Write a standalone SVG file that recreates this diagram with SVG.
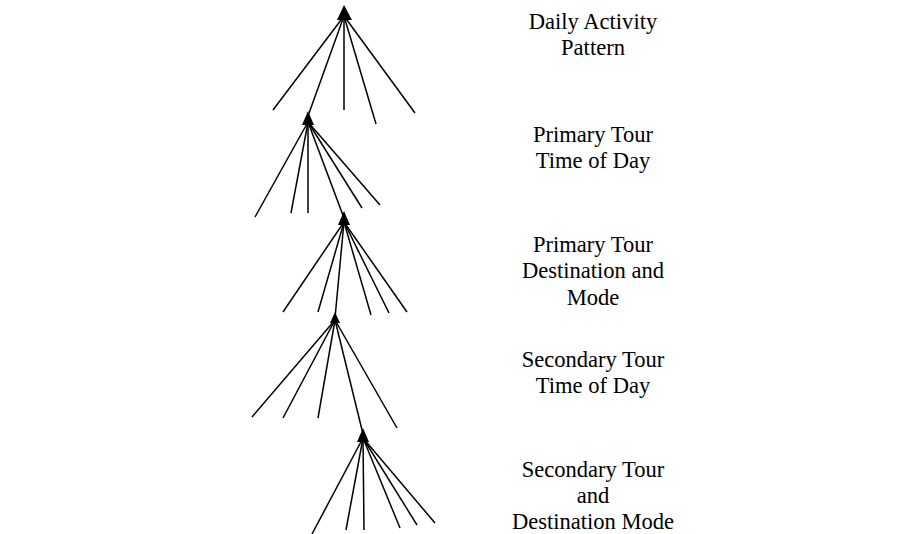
<svg xmlns="http://www.w3.org/2000/svg" width="913" height="534" viewBox="0 0 913 534">
  <style>
    .lbl { font-family: "Liberation Serif", "Times New Roman", serif; font-size: 24px; fill: #000; text-anchor: middle; }
    .ln { stroke: #000; stroke-width: 1.5; fill: none; stroke-linecap: butt; }
    .head { fill: #000; stroke: none; }
  </style>
  <rect width="913" height="534" fill="#fff"/>
  <g id="connectors">
    <line class="ln" x1="344" y1="16" x2="273" y2="110"/>
    <line class="ln" x1="344" y1="16" x2="308" y2="116"/>
    <line class="ln" x1="344" y1="16" x2="344" y2="110"/>
    <line class="ln" x1="344" y1="16" x2="376" y2="124"/>
    <line class="ln" x1="344" y1="16" x2="415" y2="113"/>
    <line class="ln" x1="308" y1="122" x2="255" y2="217"/>
    <line class="ln" x1="308" y1="122" x2="291" y2="213"/>
    <line class="ln" x1="308" y1="122" x2="308" y2="213"/>
    <line class="ln" x1="308" y1="122" x2="344" y2="218"/>
    <line class="ln" x1="308" y1="122" x2="362" y2="208"/>
    <line class="ln" x1="308" y1="122" x2="380" y2="205"/>
    <line class="ln" x1="344" y1="222" x2="283" y2="312"/>
    <line class="ln" x1="344" y1="222" x2="318" y2="312"/>
    <line class="ln" x1="344" y1="222" x2="335" y2="318"/>
    <line class="ln" x1="344" y1="222" x2="371" y2="315"/>
    <line class="ln" x1="344" y1="222" x2="389" y2="313"/>
    <line class="ln" x1="344" y1="222" x2="407" y2="312"/>
    <line class="ln" x1="335" y1="320" x2="252" y2="417"/>
    <line class="ln" x1="335" y1="320" x2="283" y2="418"/>
    <line class="ln" x1="335" y1="320" x2="318" y2="418"/>
    <line class="ln" x1="335" y1="320" x2="363" y2="434"/>
    <line class="ln" x1="335" y1="320" x2="397" y2="428"/>
    <line class="ln" x1="363" y1="438" x2="312" y2="534"/>
    <line class="ln" x1="363" y1="438" x2="346" y2="530"/>
    <line class="ln" x1="363" y1="438" x2="364" y2="530"/>
    <line class="ln" x1="363" y1="438" x2="400" y2="528"/>
    <line class="ln" x1="363" y1="438" x2="417" y2="525"/>
    <line class="ln" x1="363" y1="438" x2="435" y2="523"/>
  </g>
  <g id="node-daily-activity-pattern">
    <polygon class="head" points="344,5 337,20 352,20"/>
    <g transform="translate(593 0) scale(0.94 1)">
      <text class="lbl" x="0" y="29">Daily Activity</text>
      <text class="lbl" x="0" y="55">Pattern</text>
    </g>
  </g>
  <g id="node-primary-tour-time">
    <polygon class="head" points="308,111 302,125 314,125"/>
    <g transform="translate(593 0) scale(0.94 1)">
      <text class="lbl" x="0" y="142">Primary Tour</text>
      <text class="lbl" x="0" y="168">Time of Day</text>
    </g>
  </g>
  <g id="node-primary-tour-dest">
    <polygon class="head" points="344,211 338,225 350,225"/>
    <g transform="translate(593 0) scale(0.94 1)">
      <text class="lbl" x="0" y="252">Primary Tour</text>
      <text class="lbl" x="0" y="278">Destination and</text>
      <text class="lbl" x="0" y="305">Mode</text>
    </g>
  </g>
  <g id="node-secondary-tour-time">
    <polygon class="head" points="335,312 330,323 340,323"/>
    <g transform="translate(593 0) scale(0.94 1)">
      <text class="lbl" x="0" y="367">Secondary Tour</text>
      <text class="lbl" x="0" y="393">Time of Day</text>
    </g>
  </g>
  <g id="node-secondary-tour-dest">
    <polygon class="head" points="363,428 357,442 369,442"/>
    <g transform="translate(593 0) scale(0.94 1)">
      <text class="lbl" x="0" y="477">Secondary Tour</text>
      <text class="lbl" x="0" y="503">and</text>
      <text class="lbl" x="0" y="529">Destination Mode</text>
    </g>
  </g>
</svg>
